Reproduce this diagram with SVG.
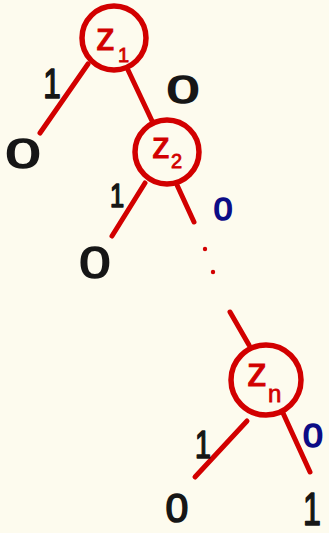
<svg xmlns="http://www.w3.org/2000/svg" width="329" height="533" viewBox="0 0 329 533">
  <style>
    .edge { stroke: #d20000; stroke-width: 5; stroke-linecap: round; fill: none; }
    .node circle { fill: none; stroke: #d20000; stroke-width: 5.5; }
    .var { font-family: "Liberation Sans", "DejaVu Sans", sans-serif; fill: #d20000; stroke: #d20000; stroke-width: 1; }
    .sub { font-family: "Liberation Sans", "DejaVu Sans", sans-serif; fill: #d20000; stroke: #d20000; stroke-width: 0.8; }
    .bit { font-family: "Liberation Sans", "DejaVu Sans", sans-serif; text-anchor: middle; stroke-width: 1.6; stroke-linejoin: round; }
    .blk { fill: #161616; stroke: #161616; }
    .blu { fill: #0c0c86; stroke: #0c0c86; }
    .dot { fill: #d20000; }
  </style>
  <rect width="329" height="533" fill="#fdfbee"/>

  <!-- branches -->
  <g id="connectors">
    <line class="edge" x1="88" y1="64" x2="40" y2="133"/>
    <line class="edge" x1="128" y1="70" x2="153" y2="123"/>
    <line class="edge" x1="145" y1="183" x2="112" y2="236"/>
    <line class="edge" x1="177" y1="185" x2="194" y2="222"/>
    <circle class="dot" cx="205" cy="249" r="2.2"/>
    <circle class="dot" cx="213" cy="272" r="2.2"/>
    <line class="edge" x1="230" y1="312" x2="249" y2="345"/>
    <line class="edge" x1="247" y1="421" x2="195" y2="477"/>
    <line class="edge" x1="283" y1="413" x2="310" y2="472"/>
  </g>

  <!-- decision nodes -->
  <g id="node-z1" class="node">
    <circle cx="114" cy="38" r="32"/>
    <text class="var" x="96" y="50" font-size="38">z</text>
    <text class="sub" x="118" y="62" font-size="20">1</text>
  </g>
  <g id="node-z2" class="node">
    <circle cx="167" cy="152" r="32"/>
    <text class="var" x="152" y="158" font-size="36">z</text>
    <text class="sub" x="171" y="168" font-size="20">2</text>
  </g>
  <g id="node-zn" class="node">
    <circle cx="266" cy="380" r="35"/>
    <text class="var" x="247" y="386" font-size="40">z</text>
    <text class="sub" x="268" y="402" font-size="24">n</text>
  </g>

  <!-- branch labels -->
  <g id="labels">
    <text class="bit blk" x="52" y="98" font-size="42" transform="translate(52 0) scale(0.75 1) translate(-52 0)">1</text>
    <text class="bit blk" x="183" y="103" font-size="39" transform="translate(183 0) scale(1.5 1) translate(-183 0)">0</text>
    <text class="bit blk" x="117" y="207" font-size="34" transform="translate(117 0) scale(0.75 1) translate(-117 0)">1</text>
    <text class="bit blu" x="223" y="220" font-size="32" transform="translate(223 0) scale(1.05 1) translate(-223 0)">0</text>
    <text class="bit blk" x="203" y="458" font-size="38" transform="translate(203 0) scale(0.75 1) translate(-203 0)">1</text>
    <text class="bit blu" x="313" y="447" font-size="34" transform="translate(313 0) scale(1.05 1) translate(-313 0)">0</text>
  </g>

  <!-- leaves -->
  <g id="leaf-a">
    <text class="bit blk" x="23" y="168" font-size="42" transform="translate(23 0) scale(1.5 1) translate(-23 0)">0</text>
  </g>
  <g id="leaf-b">
    <text class="bit blk" x="95" y="278" font-size="45" transform="translate(95 0) scale(1.25 1) translate(-95 0)">0</text>
  </g>
  <g id="leaf-c">
    <text class="bit blk" x="177" y="522" font-size="41">0</text>
  </g>
  <g id="leaf-d">
    <text class="bit blk" x="312" y="525" font-size="46" transform="translate(312 0) scale(0.7 1) translate(-312 0)">1</text>
  </g>
</svg>
